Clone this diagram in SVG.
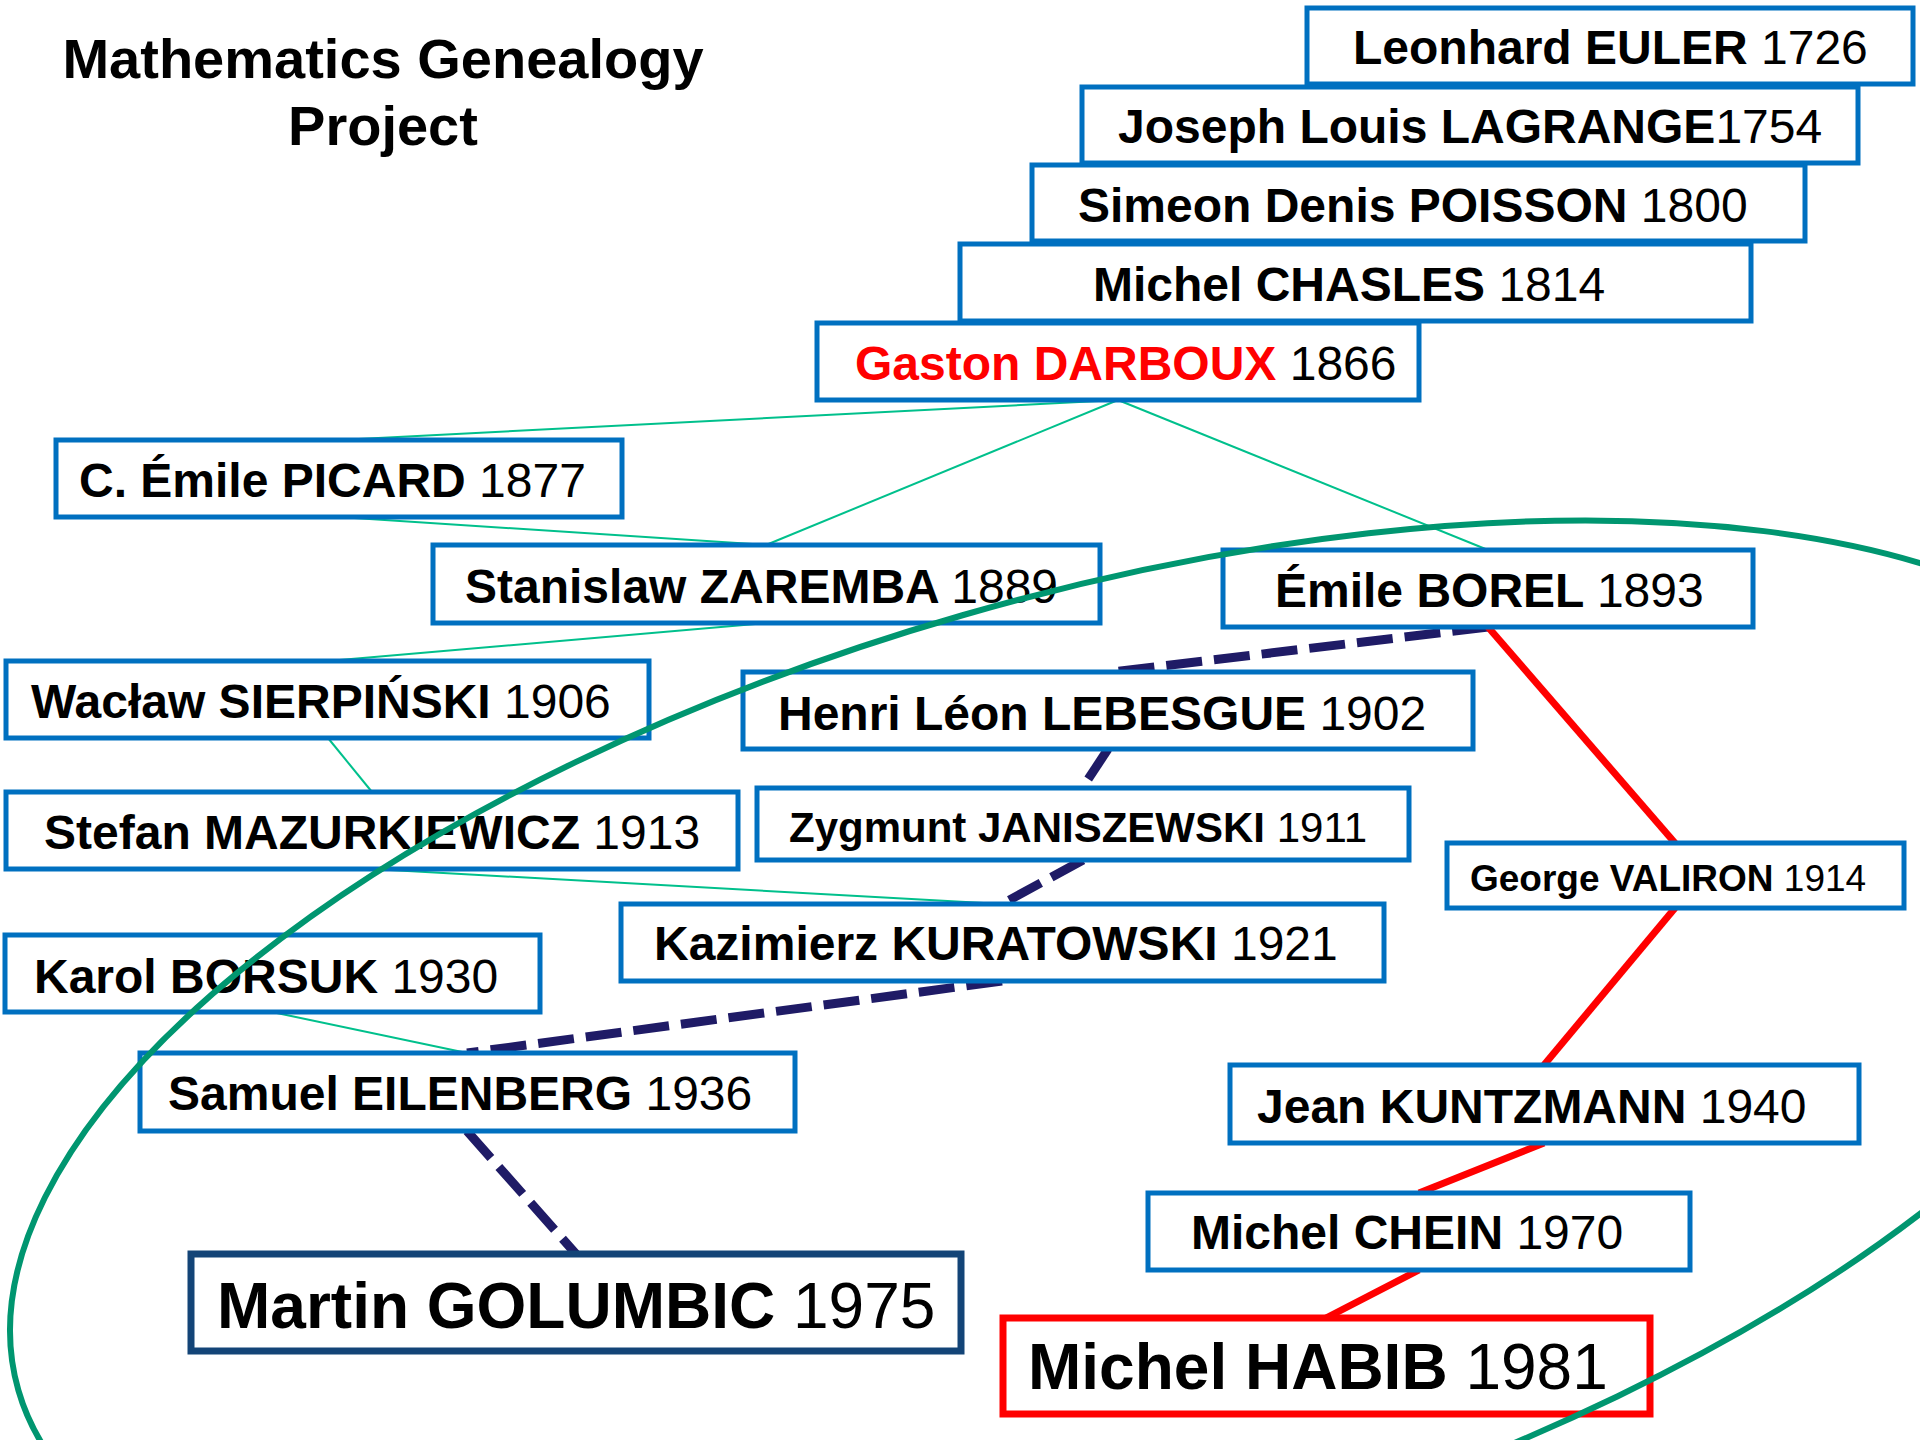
<svg xmlns="http://www.w3.org/2000/svg" width="1920" height="1440" viewBox="0 0 1920 1440">
<style>
.box{fill:#fff;stroke:#0070c0;stroke-width:5}
.t{font-family:"Liberation Sans",Arial,sans-serif;font-size:48px;fill:#000}
.b{font-weight:bold}
.thin{stroke:#00c08c;stroke-width:2;fill:none}
.dash{stroke:#1f1b66;stroke-width:9;stroke-dasharray:36 12;fill:none}
.red{stroke:#ff0000;stroke-width:7;fill:none}
</style>
<rect width="1920" height="1440" fill="#fff"/>
<g id="title">
<text class="t b" x="383" y="78" text-anchor="middle" style="font-size:56px">Mathematics Genealogy</text>
<text class="t b" x="383" y="145" text-anchor="middle" style="font-size:56px">Project</text>
</g>
<g id="connectors">
<line class="thin" x1="1118" y1="400" x2="339" y2="440"/>
<line class="thin" x1="1118" y1="400" x2="766" y2="545"/>
<line class="thin" x1="1118" y1="400" x2="1488" y2="550"/>
<line class="thin" x1="339" y1="517" x2="766" y2="545"/>
<line class="thin" x1="766" y1="623" x2="328" y2="661"/>
<line class="thin" x1="328" y1="738" x2="372" y2="792"/>
<line class="thin" x1="372" y1="869" x2="1002" y2="904"/>
<line class="thin" x1="272" y1="1012" x2="467" y2="1053"/>
<line class="dash" x1="1488" y1="627" x2="1112" y2="672"/>
<line class="dash" x1="1108" y1="749" x2="1083" y2="787"/>
<line class="dash" x1="1083" y1="860" x2="1002" y2="904"/>
<line class="dash" x1="1002" y1="981" x2="467" y2="1053"/>
<line class="dash" x1="467" y1="1131" x2="576" y2="1254"/>
<line class="red" x1="1488" y1="627" x2="1675" y2="843"/>
<line class="red" x1="1675" y1="908" x2="1544" y2="1065"/>
<line class="red" x1="1544" y1="1143" x2="1419" y2="1193"/>
<line class="red" x1="1419" y1="1270" x2="1326" y2="1318"/>
</g>
<g id="euler"><rect class="box" x="1307" y="8" width="606" height="76"/><text class="t" x="1353" y="64"><tspan class="b">Leonhard EULER </tspan>1726</text></g>
<g id="lagrange"><rect class="box" x="1082" y="87" width="776" height="76"/><text class="t" x="1118" y="143"><tspan class="b">Joseph Louis LAGRANGE</tspan>1754</text></g>
<g id="poisson"><rect class="box" x="1032" y="165" width="773" height="76"/><text class="t" x="1078" y="222"><tspan class="b">Simeon Denis POISSON </tspan>1800</text></g>
<g id="chasles"><rect class="box" x="960" y="244" width="791" height="77"/><text class="t" x="1093" y="301"><tspan class="b">Michel CHASLES </tspan>1814</text></g>
<g id="darboux"><rect class="box" x="817" y="323" width="602" height="77"/><text class="t" x="855" y="380"><tspan class="b" fill="#ff0000">Gaston DARBOUX </tspan>1866</text></g>
<g id="picard"><rect class="box" x="56" y="440" width="566" height="77"/><text class="t" x="79" y="497"><tspan class="b">C. Émile PICARD </tspan>1877</text></g>
<g id="zaremba"><rect class="box" x="433" y="545" width="667" height="78"/><text class="t" x="465" y="603"><tspan class="b">Stanislaw ZAREMBA </tspan>1889</text></g>
<g id="borel"><rect class="box" x="1223" y="550" width="530" height="77"/><text class="t" x="1275" y="607" fill="#0070c0"><tspan class="b">Émile BOREL </tspan>1893</text></g>
<g id="sierpinski"><rect class="box" x="6" y="661" width="643" height="77"/><text class="t" x="31" y="718"><tspan class="b">Wacław SIERPIŃSKI </tspan>1906</text></g>
<g id="lebesgue"><rect class="box" x="743" y="672" width="730" height="77"/><text class="t" x="778" y="730"><tspan class="b">Henri Léon LEBESGUE </tspan>1902</text></g>
<g id="janiszewski"><rect class="box" x="757" y="788" width="652" height="72"/><text class="t" x="789" y="842" style="font-size:42px"><tspan class="b">Zygmunt JANISZEWSKI </tspan>1911</text></g>
<g id="mazurkiewicz"><rect class="box" x="6" y="792" width="732" height="77"/><text class="t" x="44" y="849"><tspan class="b">Stefan MAZURKIEWICZ </tspan>1913</text></g>
<g id="valiron"><rect class="box" x="1447" y="843" width="457" height="65"/><text class="t" x="1470" y="891" style="font-size:37px"><tspan class="b">George VALIRON </tspan>1914</text></g>
<g id="kuratowski"><rect class="box" x="621" y="904" width="763" height="77"/><text class="t" x="654" y="960"><tspan class="b">Kazimierz KURATOWSKI </tspan>1921</text></g>
<g id="borsuk"><rect class="box" x="5" y="935" width="535" height="77"/><text class="t" x="34" y="993"><tspan class="b">Karol BORSUK </tspan>1930</text></g>
<g id="eilenberg"><rect class="box" x="140" y="1053" width="655" height="78"/><text class="t" x="168" y="1110"><tspan class="b">Samuel EILENBERG </tspan>1936</text></g>
<g id="kuntzmann"><rect class="box" x="1230" y="1065" width="629" height="78"/><text class="t" x="1257" y="1123"><tspan class="b">Jean KUNTZMANN </tspan>1940</text></g>
<g id="chein"><rect class="box" x="1148" y="1193" width="542" height="77"/><text class="t" x="1191" y="1249"><tspan class="b">Michel CHEIN </tspan>1970</text></g>
<g id="golumbic"><rect x="191" y="1254" width="770" height="97" fill="#fff" stroke="#134477" stroke-width="7"/><text class="t" x="217" y="1328" style="font-size:64px"><tspan class="b">Martin GOLUMBIC </tspan>1975</text></g>
<g id="habib"><rect x="1003" y="1318" width="647" height="96" fill="#fff" stroke="#ff0000" stroke-width="7"/><text class="t" x="1028" y="1389" style="font-size:64px"><tspan class="b">Michel HABIB </tspan>1981</text></g>
<g id="ellipse"><ellipse cx="0" cy="0" rx="1122" ry="483" transform="translate(1096.4 1079.3) rotate(-16.1)" fill="none" stroke="#009670" stroke-width="6"/></g>
</svg>
